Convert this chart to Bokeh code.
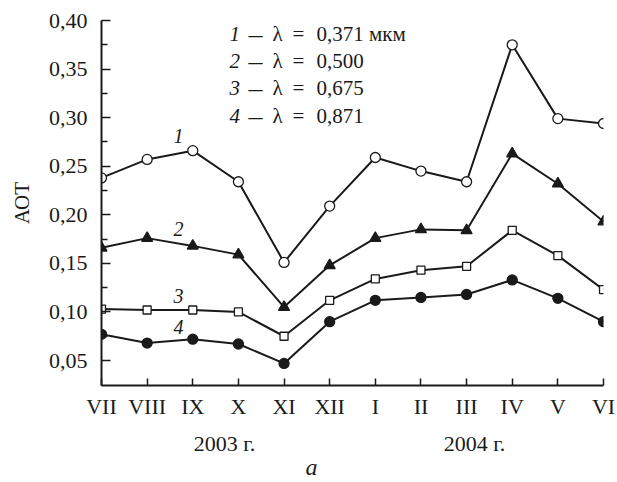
from bokeh.plotting import figure
from bokeh.models import FixedTicker, Label, Range1d, CustomJSTickFormatter, LinearAxis
from bokeh.embed import file_html
from bokeh.resources import INLINE

# ---- data ----
months = ["VII", "VIII", "IX", "X", "XI", "XII", "I", "II", "III", "IV", "V", "VI"]
aot_371 = [0.238, 0.257, 0.266, 0.234, 0.151, 0.209, 0.259, 0.245, 0.234, 0.375, 0.299, 0.294]
aot_500 = [0.166, 0.176, 0.168, 0.159, 0.105, 0.148, 0.176, 0.185, 0.184, 0.263, 0.232, 0.193]
aot_675 = [0.103, 0.102, 0.102, 0.100, 0.075, 0.112, 0.134, 0.143, 0.147, 0.184, 0.158, 0.123]
aot_871 = [0.077, 0.068, 0.072, 0.067, 0.047, 0.090, 0.112, 0.115, 0.118, 0.133, 0.114, 0.090]
series_names = ["1", "2", "3", "4"]
wavelengths = ["0,371 мкм", "0,500", "0,675", "0,871"]
year_labels = ["2003 г.", "2004 г."]
y_ticks = [0.05, 0.10, 0.15, 0.20, 0.25, 0.30, 0.35, 0.40]
y_minor = [0.075, 0.125, 0.175, 0.225, 0.275, 0.325, 0.375]
y_label = "АОТ"
panel_label = "a"

FONT = "Liberation Serif"
INK = "#1a1a1a"
OFF = 0                      # canvas offset on the page
W, H = 617, 482
FL, FR, FT, FB = 101, 603, 20, 385   # frame edges (page px)
Y0, Y1 = 0.0243, 0.40
x = list(range(len(months)))

p = figure(width=W, height=H, output_backend="svg", toolbar_location=None,
           x_range=Range1d(0, len(months) - 1), y_range=Range1d(Y0, Y1),
           min_border_left=FL - OFF, min_border_right=W - (FR - OFF),
           min_border_top=FT - OFF, min_border_bottom=H - (FB - OFF))
p.outline_line_color = None
p.xgrid.visible = False
p.ygrid.visible = False
p.background_fill_color = "white"

XPX = (FR - FL) / (len(months) - 1)
def dx(px):
    return (px - FL) / XPX
def dy(py):
    return Y1 - (py - FT) * (Y1 - Y0) / (FB - FT)

# ---- axes ----
def style_axis(ax):
    ax.axis_line_width = 2
    ax.axis_line_color = INK
    ax.major_tick_line_color = INK
    ax.major_tick_line_width = 1.5
    ax.minor_tick_line_color = INK
    ax.minor_tick_line_width = 1.5
    ax.major_tick_out = 0
    ax.minor_tick_out = 0
    ax.major_label_text_font = FONT
    ax.major_label_text_font_size = "22px"
    ax.major_label_text_color = INK

style_axis(p.xaxis[0])
style_axis(p.yaxis[0])

p.yaxis.ticker = FixedTicker(ticks=y_ticks, minor_ticks=y_minor)
p.yaxis.formatter = CustomJSTickFormatter(code="return tick.toFixed(2).replace('.', ',');")
p.yaxis.major_tick_in = 9
p.yaxis.minor_tick_in = 6
p.yaxis.major_label_standoff = 14
p.yaxis.axis_label = y_label
p.yaxis.axis_label_text_font = FONT
p.yaxis.axis_label_text_font_size = "21px"
p.yaxis.axis_label_text_font_style = "normal"
p.yaxis.axis_label_text_color = INK
p.yaxis.axis_label_standoff = 12

p.xaxis.ticker = FixedTicker(ticks=x, minor_ticks=[])
p.xaxis.formatter = CustomJSTickFormatter(args=dict(months=months),
                                          code="return months[Math.round(tick)];")
p.xaxis.major_tick_in = 7
p.xaxis.minor_tick_in = 0
p.xaxis.major_label_standoff = 8

# year axis
yr_axis = LinearAxis(ticker=FixedTicker(ticks=[dx(224), dx(474)], minor_ticks=[]),
                     formatter=CustomJSTickFormatter(args=dict(labels=year_labels),
                                                     code="return labels[index];"))
style_axis(yr_axis)
yr_axis.axis_line_color = None
yr_axis.major_tick_line_color = None
yr_axis.major_tick_in = 0
yr_axis.minor_tick_in = 0
yr_axis.major_label_standoff = 9
p.add_layout(yr_axis, "below")

# panel letter axis
a_axis = LinearAxis(ticker=FixedTicker(ticks=[dx(311)], minor_ticks=[]),
                    formatter=CustomJSTickFormatter(args=dict(lab=panel_label),
                                                    code="return lab;"))
style_axis(a_axis)
a_axis.axis_line_color = None
a_axis.major_tick_line_color = None
a_axis.major_tick_in = 0
a_axis.minor_tick_in = 0
a_axis.major_label_text_font_size = "24px"
a_axis.major_label_text_font_style = "italic"
a_axis.major_label_standoff = -5
p.add_layout(a_axis, "below")

# ---- series ----
styles = [
    (aot_371, "circle", 10, "white"),
    (aot_500, "triangle", 11, INK),
    (aot_675, "square", 8, "white"),
    (aot_871, "circle", 10, INK),
]
for ys, mk, sz, fill in styles:
    p.line(x, ys, line_color=INK, line_width=2)
    p.scatter(x, ys, marker=mk, size=sz, fill_color=fill, line_color=INK, line_width=1.3)

# ---- curve numbers ----
num_pos = [(178, 135), (178, 228), (178, 295), (178, 326)]
for name, (px, py) in zip(series_names, num_pos):
    p.add_layout(Label(x=dx(px), y=dy(py), text=name, text_font=FONT,
                       text_font_size="20px", text_font_style="italic",
                       text_color=INK, text_align="center", text_baseline="alphabetic"))

# ---- legend text ----
def put(px, py, text, size="21px", style="normal"):
    p.add_layout(Label(x=dx(px), y=dy(py), text=text, text_font=FONT,
                       text_font_size=size, text_font_style=style, text_color=INK,
                       text_align="left", text_baseline="alphabetic"))

base = [33, 60, 87, 115]
for name, wl, by in zip(series_names, wavelengths, base):
    put(229, by, name, style="italic")
    put(248, by, "–", size="28px")
    put(272, by, "λ")
    put(292, by, "=")
    put(316, by, wl)

open("out.html", "w").write(file_html(p, INLINE))
